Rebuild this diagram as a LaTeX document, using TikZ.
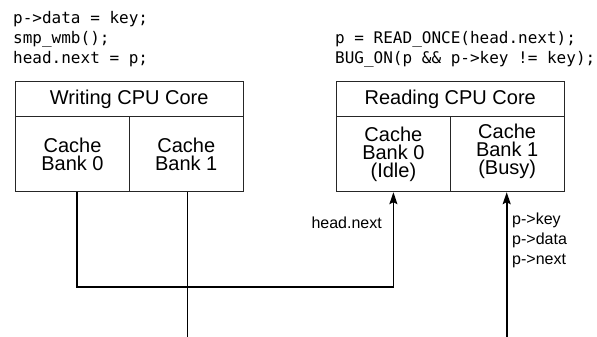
\documentclass[tikz,border=0pt]{standalone}
\usepackage{fontspec}
\setmainfont{Liberation Sans}
\setmonofont{DejaVu Sans Mono}
\usepackage{tikz}
\usetikzlibrary{arrows.meta,positioning,calc}

\begin{document}
\begin{tikzpicture}[
  x=1pt,y=-1pt,
  box/.style={draw=black!85,line width=1pt,inner sep=0pt,align=center,font=\fontsize{20}{18}\selectfont},
  title/.style={box,minimum width=228pt,minimum height=35pt},
  bank/.style={box,minimum width=114pt,minimum height=75pt},
  code/.style={inner sep=0pt,align=left,anchor=west,font=\ttfamily\fontsize{16}{20}\selectfont},
  lbl/.style={inner sep=0pt,align=left,font=\fontsize{16}{20}\selectfont},
  wire/.style={line width=1.5pt},
  arr/.style={-{Stealth[length=12pt,width=8pt,inset=2pt]},line width=1.6pt}
]
  \useasboundingbox (0,0) rectangle (597,337);
  % code of both cores
  \node[code] (wcode) at (13,39) {p->data = key;\\smp\_wmb();\\head.next = p;};
  \node[code] (rcode) at (335,49.5) {p = READ\_ONCE(head.next);\\BUG\_ON(p \&\& p->key != key);};
  % writing core
  \node[title] (wtitle) at (129.25,99.2) {Writing CPU Core};
  \node[bank] (wbank0) at (72.5,154.2) {Cache\\Bank 0};
  \node[bank] (wbank1) at (186.25,154.2) {Cache\\Bank 1};
  % reading core
  \node[title] (rtitle) at (450.25,99.2) {Reading CPU Core};
  \node[bank] (rbank0) at (393.4,154.2) {Cache\\Bank 0\\(Idle)};
  \node[bank] (rbank1) at (507.15,154.2) {};
  \node[box,draw=none] (rbank1txt) at (507.15,151.5) {Cache\\Bank 1\\(Busy)};
  % connectors
  \coordinate (wturn) at (76.7,286.7);
  \coordinate (wout) at (187.7,337);
  \coordinate (rin) at (506.7,337);
  \draw[arr] (wbank0.south -| wturn) -- (wturn) -| (rbank0.south);
  \draw[wire] (wbank1.south -| wout) -- (wout);
  \draw[arr] (rin) -- (rin |- rbank1.south);
  % labels
  \node[lbl,anchor=east] (lhead) at (382,223) {head.next};
  \node[lbl,anchor=west] (lptr) at (512,240.5) {p->key\\p->data\\p->next};
\end{tikzpicture}
\end{document}
